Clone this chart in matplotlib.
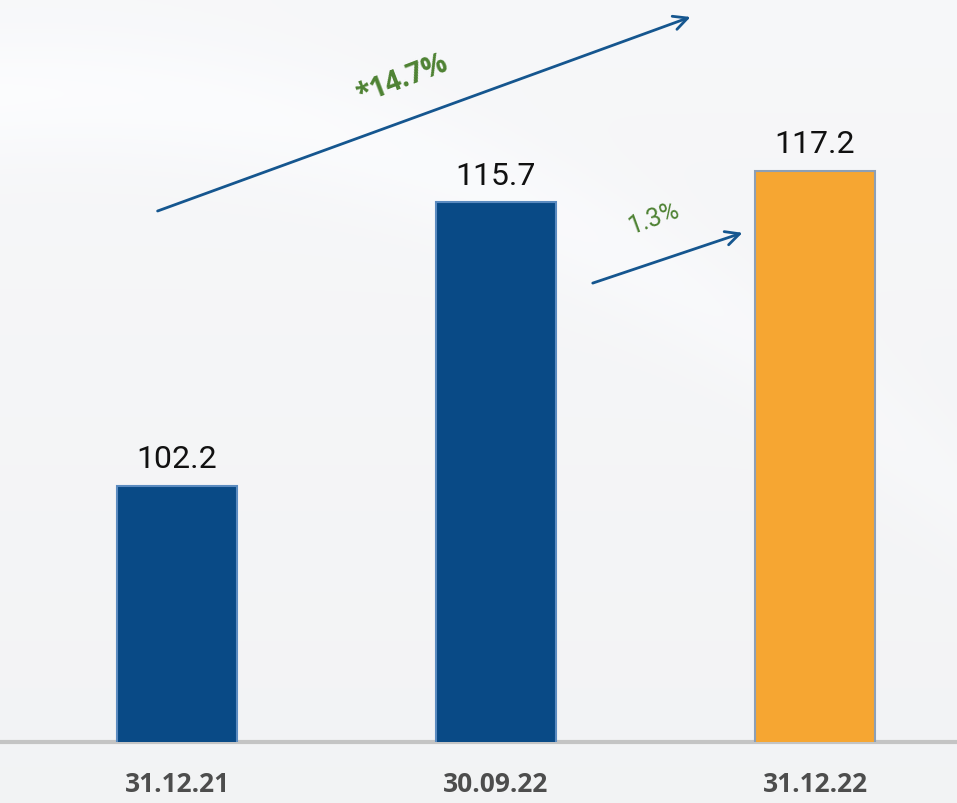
import matplotlib
matplotlib.use("Agg")
import matplotlib.pyplot as plt
import numpy as np

categories = ["31.12.21", "30.09.22", "31.12.22"]
values = [102.2, 115.7, 117.2]
bar_colors = ["#094a86", "#094a86", "#f6a632"]
growth_total = "*14.7%"
growth_q = "1.3%"

W, H = 957, 804
fig = plt.figure(figsize=(W / 100, H / 100), dpi=100)

# background: soft light gradient with a faint white swoosh
bg = fig.add_axes([0, 0, 1, 1], zorder=0)
yy, xx = np.mgrid[0:1:400j, 0:1:400j]
base = 0.978 - 0.018 * yy
arc_center = 0.12 + 0.55 * (xx - 0.05) ** 2
swoosh = np.exp(-((yy - arc_center) ** 2) / 0.006) * 0.02 * (1 - xx * 0.5)
img = np.clip(base + swoosh, 0, 1)
rgb = np.dstack([img * 0.99, img * 0.993, img * 1.0])
bg.imshow(rgb, extent=[0, 1, 0, 1], aspect="auto", origin="upper")
bg.axis("off")

base_px = 743
ppu = 21.0
ymin = 90.0
ax = fig.add_axes([0, (H - base_px) / H, 1, base_px / H], zorder=1)
ax.patch.set_alpha(0)
x = np.arange(len(categories))
ax.set_xlim(-177 / 319, (W - 177) / 319)
ax.set_ylim(ymin, ymin + base_px / ppu)

ax.bar(x, values, width=120 / 319, color=bar_colors,
       edgecolor=["#5b8bc0", "#5b8bc0", "#8d9fb5"], linewidth=1.5, zorder=3)

for xi, v in zip(x, values):
    ax.annotate(f"{v:.1f}", (xi, v), xytext=(0, 9), textcoords="offset points",
                ha="center", va="bottom", fontsize=23, family=["Roboto", "DejaVu Sans"],
                color="#111111")

for s in ["top", "right", "left"]:
    ax.spines[s].set_visible(False)
ax.spines["bottom"].set_color("#c4c4c4")
ax.spines["bottom"].set_linewidth(3)
ax.set_yticks([])
ax.set_xticks(x)
ax.set_xticklabels(categories, fontsize=19, fontweight="bold",
                   family=["Open Sans", "DejaVu Sans"], color="#4d4d4d")
ax.tick_params(axis="x", length=0, pad=20)

arrow_col = "#15568f"
ax.annotate("", xy=(1.618, 124.57), xytext=(-0.069, 115.24),
            arrowprops=dict(arrowstyle="->,head_length=1.0,head_width=0.5",
                            color=arrow_col, lw=2.0), zorder=4)
ax.text(0.705, 121.6, growth_total, rotation=21, ha="center", va="center",
        fontsize=20, fontweight="bold", family=["Open Sans", "DejaVu Sans"], color="#4e8233")
ax.annotate("", xy=(1.781, 114.29), xytext=(1.295, 111.81),
            arrowprops=dict(arrowstyle="->,head_length=1.0,head_width=0.5",
                            color=arrow_col, lw=2.0), zorder=4)
ax.text(1.495, 115.0, growth_q, rotation=20, ha="center", va="center",
        fontsize=18, family=["Roboto", "DejaVu Sans"], color="#4e8233")

fig.savefig("out.png", dpi=100)
